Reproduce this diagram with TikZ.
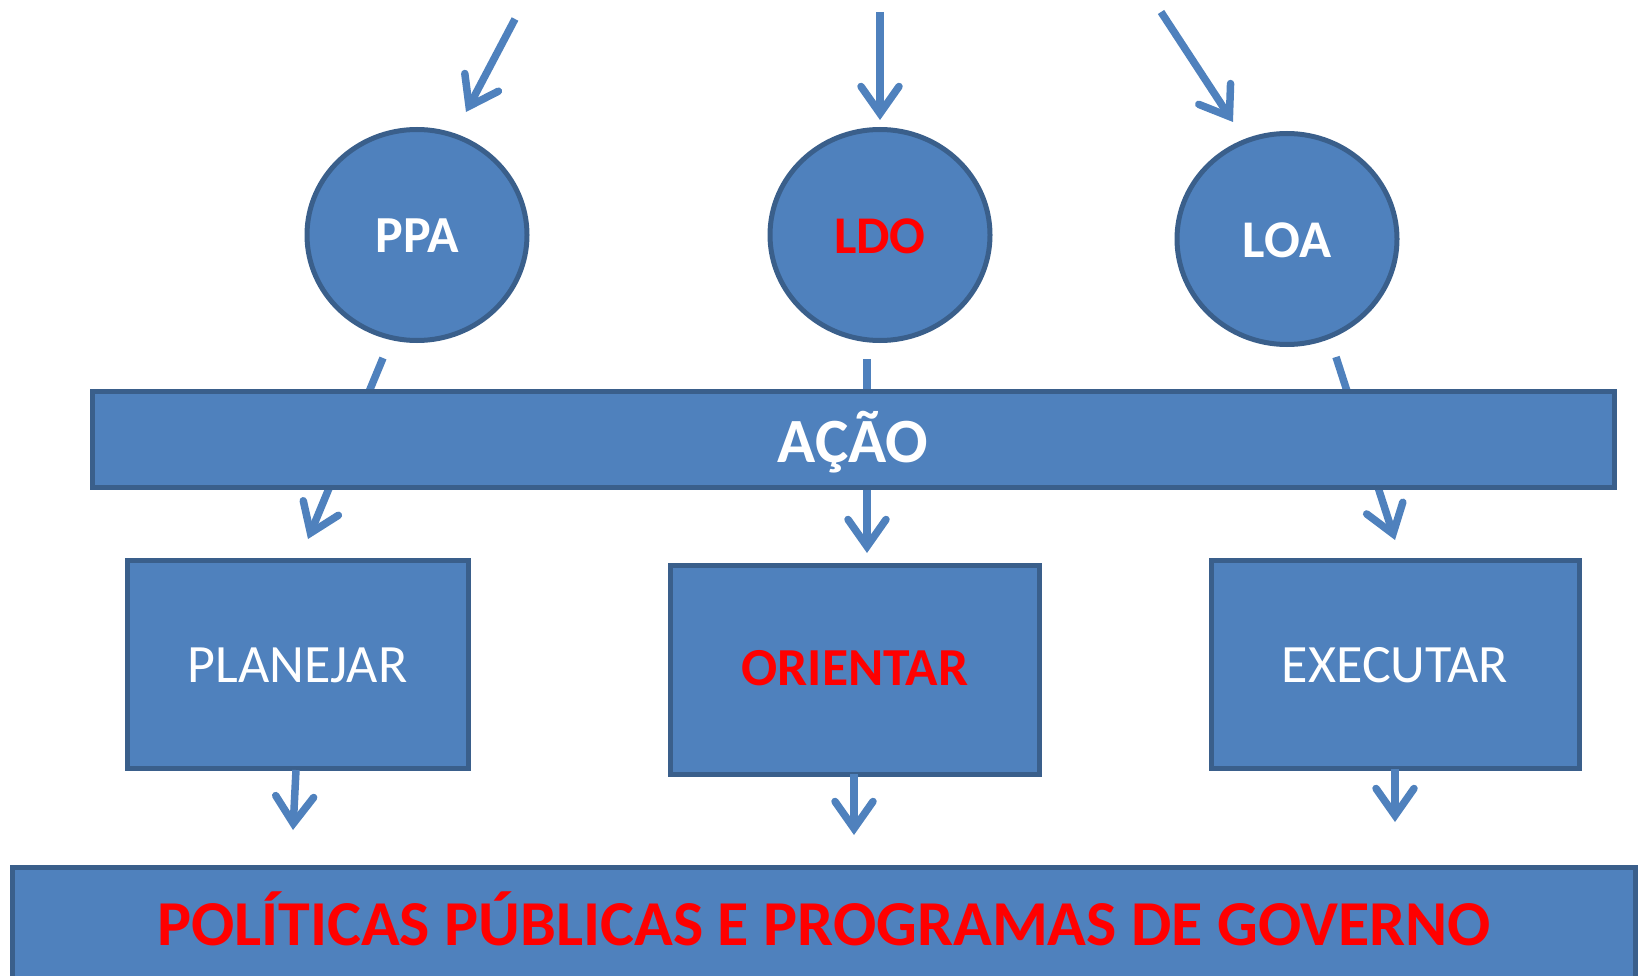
\documentclass[tikz,border=0pt]{standalone}
\usepackage{fontspec}
\setmainfont{Carlito}
\usetikzlibrary{shapes.geometric,arrows.meta}
\definecolor{fillblue}{HTML}{4F81BD}
\definecolor{edgeblue}{HTML}{3A5F8B}
\definecolor{txtred}{HTML}{FF0000}
\begin{document}
\begin{tikzpicture}[x=1pt,y=-1pt,
  shapebox/.style={draw=edgeblue,fill=fillblue,line width=5pt,rectangle,inner sep=0pt},
  oval/.style={draw=edgeblue,fill=fillblue,line width=5pt,ellipse,inner sep=0pt,minimum width=220pt,minimum height=211pt},
  conn/.style={draw=fillblue,line width=7.5pt,line cap=butt,
    -{Straight Barb[length=27pt,width=38pt,line cap=round,line join=miter]}},
  lbl/.style={anchor=base,inner sep=0pt}
]
\useasboundingbox (0,0) rectangle (1640,976);

% ovals
\node[oval] (ppa) at (417,235) {};
\node[oval] (ldo) at (880,235) {};
\node[oval] (loa) at (1287,239) {};
\node[lbl,text=white,font=\bfseries\fontsize{52}{52}\selectfont] (ppat) at (417,253) {PPA};
\node[lbl,text=txtred,font=\bfseries\fontsize{53}{53}\selectfont] (ldot) at (880,254) {LDO};
\node[lbl,text=white,font=\bfseries\fontsize{53}{53}\selectfont] (loat) at (1287,258) {LOA};

% arrow end points
\coordinate (a1s) at (515,19);   \coordinate (a1e) at (466,112);
\coordinate (a2s) at (880,12);   \coordinate (a2e) at (880,120);
\coordinate (a3s) at (1161,12);  \coordinate (a3e) at (1233,122);
\coordinate (b1s) at (383,358);  \coordinate (b1e) at (308,539);
\coordinate (b2s) at (867,359);  \coordinate (b2e) at (867,553);
\coordinate (b3s) at (1336,357); \coordinate (b3e) at (1395,540);

\draw[conn] (a1s) -- (a1e);
\draw[conn] (a2s) -- (a2e);
\draw[conn] (a3s) -- (a3e);
\draw[conn] (b1s) -- (b1e);
\draw[conn] (b2s) -- (b2e);
\draw[conn] (b3s) -- (b3e);

% action bar
\node[shapebox,minimum width=1522pt,minimum height=96pt] (acao) at (853,439) {};
\node[lbl,text=white,font=\bfseries\fontsize{63}{63}\selectfont] (acaot) at (853,462) {AÇÃO};

% boxes
\node[shapebox,minimum width=341pt,minimum height=208pt] (plan) at (297.5,664) {};
\node[shapebox,minimum width=369pt,minimum height=209pt] (orient) at (854.5,669.5) {};
\node[shapebox,minimum width=368pt,minimum height=208pt] (exec) at (1395,664) {};
\node[lbl,text=white,font=\fontsize{54}{54}\selectfont] (plant) at (297.5,682) {PLANEJAR};
\node[lbl,text=txtred,font=\bfseries\fontsize{53.5}{53.5}\selectfont] (orientt) at (855,685) {ORIENTAR};
\node[lbl,text=white,font=\fontsize{54}{54}\selectfont] (exect) at (1395,682) {EXECUTAR};

% bottom arrows
\coordinate (c1s) at (296,770);  \coordinate (c1e) at (293,830);
\coordinate (c2s) at (854,774);  \coordinate (c2e) at (854,835);
\coordinate (c3s) at (1395,769); \coordinate (c3e) at (1395,822);
\draw[conn] (c1s) -- (c1e);
\draw[conn] (c2s) -- (c2e);
\draw[conn] (c3s) -- (c3e);

% bottom bar
\node[shapebox,minimum width=1623pt,minimum height=124pt] (pol) at (823.5,929) {};
\node[lbl,text=txtred,font=\bfseries\fontsize{64}{64}\selectfont] (polt) at (824,945) {POLÍTICAS PÚBLICAS E PROGRAMAS DE GOVERNO};
\end{tikzpicture}
\end{document}
